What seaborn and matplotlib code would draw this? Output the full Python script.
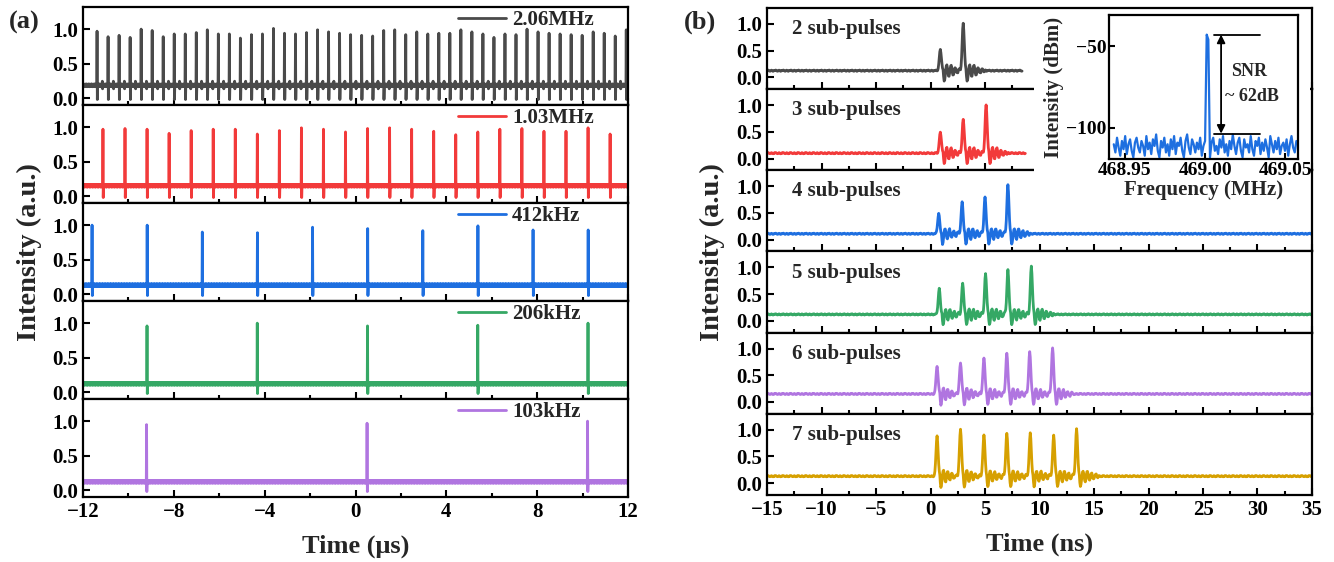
import numpy as np
import pandas as pd
import seaborn as sns
import matplotlib.pyplot as plt
from matplotlib.ticker import MultipleLocator, FormatStrFormatter
from matplotlib.patches import Rectangle

# ---- panel (a): pulse trains at different repetition rates ----
rate_labels = ['2.06MHz', '1.03MHz', '412kHz', '206kHz', '103kHz']
rate_mhz = [2.06, 1.03, 0.412, 0.206, 0.103]
first_pulse_us = [-11.38, -11.12, -11.6, -9.18, -9.2]
baseline_a = [0.185, 0.15, 0.13, 0.12, 0.12]
heights_206mhz = [0.97, 0.89, 0.91, 0.88, 1.0, 0.98, 0.89, 0.93, 0.93, 0.95,
                  0.99, 0.93, 0.93, 0.87, 0.92, 0.93, 1.01, 0.94, 0.93, 0.95,
                  0.99, 0.96, 0.94, 0.92, 0.91, 0.9, 0.98, 0.99, 0.92, 0.96,
                  0.93, 0.94, 0.94, 0.99, 0.96, 0.93, 0.88, 0.93, 0.92, 1.0,
                  0.96, 0.94, 0.93, 0.92, 0.91, 0.96, 0.94, 0.9, 0.99]
heights_103mhz = [0.97, 0.98, 0.97, 0.91, 0.95, 0.97, 0.97, 0.9, 0.95, 0.99,
                  0.97, 0.93, 0.98, 0.99, 0.97, 0.94, 0.89, 0.93, 0.97, 0.98,
                  0.94, 0.94, 0.99, 0.9]
heights_412khz = [1.0, 1.0, 0.9, 0.89, 0.97, 0.95, 0.92, 0.99, 0.93, 0.93]
heights_206khz = [0.96, 1.0, 0.96, 0.97, 1.0]
heights_103khz = [0.95, 0.97, 1.0]
heights_a = [heights_206mhz, heights_103mhz, heights_412khz, heights_206khz, heights_103khz]
dip_a = -0.02
wiggle_a = [0.0, 0.018, -0.014, 0.02, -0.006, 0.012, -0.02, 0.014, -0.008, 0.018, -0.016, 0.007]

# ---- panel (b): sub-pulse bunches ----
sub_labels = ['2 sub-pulses', '3 sub-pulses', '4 sub-pulses', '5 sub-pulses', '6 sub-pulses', '7 sub-pulses']
sub_times = [[0.9, 3.0],
             [0.9, 3.0, 5.1],
             [0.75, 2.9, 5.0, 7.1],
             [0.8, 2.95, 5.05, 7.1, 9.25],
             [0.6, 2.75, 4.9, 7.0, 9.1, 11.2],
             [0.6, 2.75, 4.9, 7.0, 9.15, 11.3, 13.4]]
sub_heights = [[0.53, 1.02],
               [0.5, 0.74, 1.01],
               [0.49, 0.7, 0.79, 1.02],
               [0.6, 0.7, 0.88, 0.94, 1.02],
               [0.67, 0.74, 0.83, 0.92, 0.95, 1.02],
               [0.89, 1.02, 0.91, 0.94, 0.94, 0.89, 1.01]]
baseline_b = [0.125, 0.1, 0.11, 0.12, 0.15, 0.13]
trace_end_ns = [8.4, 8.7, 35, 35, 35, 35]
pulse_lobe = [0.03, 0.12, 0.3, 0.58, 0.86, 1.0, 0.86, 0.58, 0.3, 0.12, 0.03]
ringing = [-0.12, -0.2, -0.17, -0.08, 0.03, 0.09, 0.1, 0.05, -0.03, -0.09, -0.1, -0.05,
           0.03, 0.08, 0.09, 0.04, -0.03, -0.07, -0.07, -0.03, 0.03, 0.05, 0.05, 0.01,
           -0.03, -0.04, -0.04, -0.01, 0.02, 0.03, 0.03, 0.0, -0.015, -0.02, 0.0, 0.01]
wiggle_b = [0.0, 0.008, 0.012, 0.006, -0.004, -0.01, -0.007, 0.003, 0.01, 0.005, -0.006, -0.011, -0.004, 0.006]

# ---- inset: RF spectrum ----
spec_db = [-110, -115, -106, -112, -117, -108, -113, -105, -116, -110, -107, -114, -118, -109, -106,
           -112, -115, -108, -111, -117, -105, -113, -109, -116, -107, -111, -104, -114, -118, -108,
           -112, -106, -115, -110, -117, -107, -113, -105, -116, -109, -111, -106, -114, -118, -108,
           -104, -112, -116, -107, -110, -115, -109, -113, -106, -117, -111, -108,
           -43, -46,
           -118, -109, -106, -114, -111, -116, -107, -112, -105, -115, -110, -117, -108, -113, -104,
           -111, -116, -109, -106, -114, -118, -107, -112, -110, -115, -105, -113, -117, -108, -111,
           -106, -116, -109, -114, -107, -112, -118, -105, -110, -115, -108, -113, -106, -116, -111,
           -109, -114, -107, -117, -110, -105, -112, -115, -108]
spec_start, spec_stop = 468.943, 469.057
peak_db, floor_db = -43, -103.5

colors = ['#4a4a4a', '#f23a3a', '#1e6fe0', '#35a865', '#b075e0', '#d6a000']


def train_a(i):
    period = 1.0 / rate_mhz[i]
    base = baseline_a[i]
    grid = np.arange(-12, 12.0001, 0.01)
    y = base + np.resize(wiggle_a, grid.size)
    keep = np.ones(grid.size, bool)
    xs, ys = [], []
    for k, h in enumerate(heights_a[i]):
        t = first_pulse_us[i] + k * period
        keep &= ~((grid > t - 0.016) & (grid < t + 0.03))
        xs += [t - 0.012, t, t + 0.012, t + 0.024]
        ys += [base, h, dip_a, base]
        if i == 0:
            m = t + period / 2
            keep &= ~((grid > m - 0.016) & (grid < m + 0.02))
            xs += [m - 0.01, m, m + 0.01]
            ys += [base + 0.06, base - 0.05, base]
    xs = np.concatenate([grid[keep], xs])
    ys = np.concatenate([y[keep], ys])
    order = np.argsort(xs)
    return pd.DataFrame({'t': xs[order], 'v': ys[order]})


def train_b(i):
    step = 0.05
    grid = np.arange(-15, trace_end_ns[i] + 1e-6, step)
    y = baseline_b[i] + np.resize(wiggle_b, grid.size)
    lobe = np.array(pulse_lobe)
    ring = np.array(ringing)
    for t, h in zip(sub_times[i], sub_heights[i]):
        c = int(round((t + 15) / step))
        y[c - 5:c + 6] += lobe * (h - baseline_b[i])
        y[c + 6:c + 6 + ring.size] += ring
    return pd.DataFrame({'t': grid, 'v': y})


sns.set_theme(style='ticks')
plt.rcParams['font.family'] = ['Liberation Serif', 'DejaVu Serif']
plt.rcParams['font.weight'] = 'bold'
plt.rcParams['axes.labelweight'] = 'bold'
plt.rcParams['axes.linewidth'] = 1.6

fig = plt.figure(figsize=(13.34, 5.62), dpi=100)


def style_axis(ax, bottom):
    ax.tick_params(which='both', direction='in', width=1.5, labelsize=15, colors='black')
    ax.tick_params(which='major', length=5)
    ax.tick_params(which='minor', length=3)
    ax.yaxis.set_major_locator(MultipleLocator(0.5))
    ax.yaxis.set_major_formatter(FormatStrFormatter('%.1f'))
    ax.set_xlabel('')
    ax.set_ylabel('')
    if not bottom:
        ax.tick_params(axis='x', labelbottom=False)
    for s in ax.spines.values():
        s.set_color('black')
        s.set_linewidth(1.6)


# panel (a)
left_a, width_a, top_a = 0.0622, 0.4086, 0.9875
h_a = 0.1744
for i in range(5):
    ax = fig.add_axes([left_a, top_a - (i + 1) * h_a, width_a, h_a])
    sns.lineplot(data=train_a(i), x='t', y='v', ax=ax, color=colors[i], lw=2.0,
                 estimator=None, sort=False, label=rate_labels[i])
    ax.set_xlim(-12, 12)
    ax.set_ylim(-0.1, 1.32)
    ax.xaxis.set_major_locator(MultipleLocator(4))
    ax.xaxis.set_minor_locator(MultipleLocator(2))
    style_axis(ax, i == 4)
    ax.legend(loc='center left', bbox_to_anchor=(0.688, 0.867), frameon=False, fontsize=15,
              handlelength=2.3, handletextpad=0.3, borderpad=0, borderaxespad=0)
    if i == 4:
        ax.set_xlabel('Time (μs)', fontsize=19, labelpad=9)

# panel (b)
left_b, width_b, top_b = 0.575, 0.4085, 0.9858
h_b = 0.1444
for i in range(6):
    ax = fig.add_axes([left_b, top_b - (i + 1) * h_b, width_b, h_b])
    sns.lineplot(data=train_b(i), x='t', y='v', ax=ax, color=colors[i], lw=2.0,
                 estimator=None, sort=False)
    ax.set_xlim(-15, 35)
    ax.set_ylim(-0.22, 1.3)
    ax.xaxis.set_major_locator(MultipleLocator(5))
    ax.xaxis.set_minor_locator(MultipleLocator(2.5))
    style_axis(ax, i == 5)
    ax.text(0.045, 0.74, sub_labels[i], transform=ax.transAxes, fontsize=15,
            fontweight='bold', va='center', ha='left')
    if i == 5:
        ax.set_xlabel('Time (ns)', fontsize=19, labelpad=9)

fig.text(0.022, 0.5516, 'Intensity (a.u.)', rotation=90, fontsize=20.5, fontweight='bold',
         ha='center', va='center')
fig.text(0.534, 0.5516, 'Intensity (a.u.)', rotation=90, fontsize=20.5, fontweight='bold',
         ha='center', va='center')
fig.text(0.018, 0.96, '(a)', fontsize=19, fontweight='bold', ha='center', va='center')
fig.text(0.525, 0.96, '(b)', fontsize=19, fontweight='bold', ha='center', va='center')

# white backdrop for inset
fig.add_artist(Rectangle((0.775, 0.6335), 0.207, 0.349, transform=fig.transFigure,
                         facecolor='white', edgecolor='none', zorder=5))

ins = fig.add_axes([0.8313, 0.7171, 0.1417, 0.2562], zorder=10)
spec = pd.DataFrame({'f': np.linspace(spec_start, spec_stop, len(spec_db)), 'p': spec_db})
sns.lineplot(data=spec, x='f', y='p', ax=ins, color=colors[2], lw=1.6, estimator=None, sort=False)
ins.set_xlim(468.94, 469.058)
ins.set_ylim(-119, -31)
ins.set_xticks([468.95, 469.00, 469.05])
ins.xaxis.set_major_formatter(FormatStrFormatter('%.2f'))
ins.set_yticks([-50, -100])
ins.tick_params(direction='in', width=1.5, length=4, labelsize=14, colors='black', pad=2)
for s in ins.spines.values():
    s.set_color('black')
    s.set_linewidth(1.6)
ins.set_xlabel('Frequency (MHz)', fontsize=15, labelpad=1)
ins.set_ylabel('Intensity (dBm)', fontsize=15, labelpad=1)
ins.plot([469.0056, 469.034], [peak_db, peak_db], color='black', lw=1.3)
ins.plot([469.0056, 469.034], [floor_db, floor_db], color='black', lw=1.3)
ins.annotate('', xy=(469.01, floor_db), xytext=(469.01, peak_db),
             arrowprops=dict(arrowstyle='<|-|>', color='black', lw=1.3, mutation_scale=12,
                             shrinkA=0, shrinkB=0))
ins.text(469.0165, -65.5, 'SNR', fontsize=13, fontweight='bold', va='center', ha='left')
ins.text(469.0125, -80.6, '~ 62dB', fontsize=13, fontweight='bold', va='center', ha='left')

fig.savefig('out.png', dpi=100)
